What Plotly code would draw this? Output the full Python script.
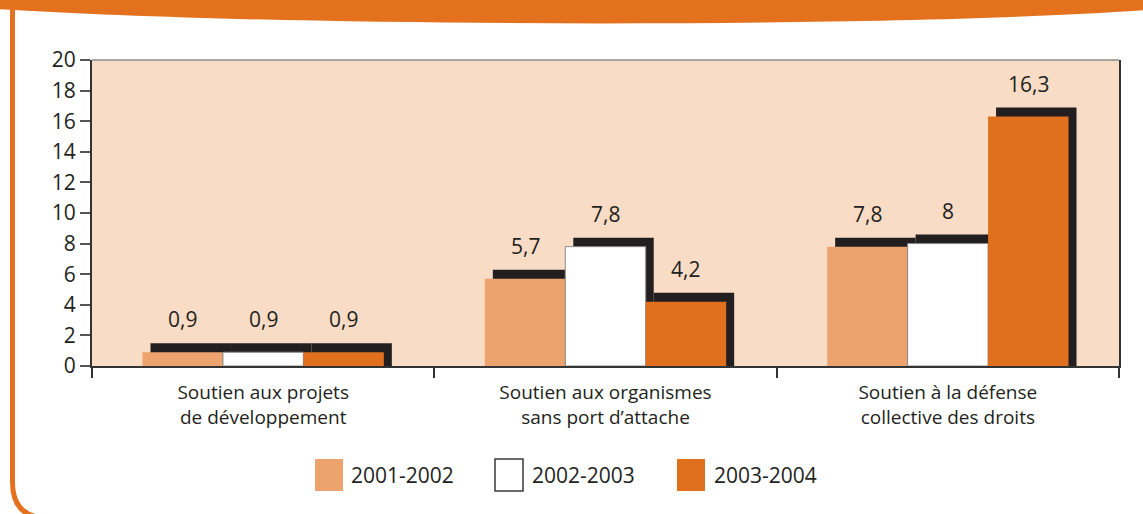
import plotly.graph_objects as go

# ---------------- data ----------------
categories = ["Soutien aux projets<br>de développement",
              "Soutien aux organismes<br>sans port d’attache",
              "Soutien à la défense<br>collective des droits"]
series_names = ["2001-2002", "2002-2003", "2003-2004"]
values_2001_2002 = [0.9, 5.7, 7.8]
values_2002_2003 = [0.9, 7.8, 8.0]
values_2003_2004 = [0.9, 4.2, 16.3]
y_ticks = [0, 2, 4, 6, 8, 10, 12, 14, 16, 18, 20]

# ---------------- style ----------------
W, H = 1143, 514
ML, MR, MT, MB = 92, 24, 60, 148
PW, PH = W - ML - MR, H - MT - MB
FONT = "Open Sans, Noto Sans, sans-serif"
TXT = "#231F20"
colors = ["#EDA36D", "#FFFFFF", "#E1701E"]
line_colors = ["#EDA36D", "#8A8A8A", "#E1701E"]
line_widths = [0, 1, 0]
shadow_color = "#231F20"
frame_orange = "#E3711E"
plot_bg = "#F9DCC5"

series = [values_2001_2002, values_2002_2003, values_2003_2004]
bar_w = 0.235
offsets = [-1.5 * bar_w + k * bar_w for k in range(3)]
px_per_x = PW / 3.0
px_per_y = PH / 20.0
dx = 8 / px_per_x      # shadow offset (right)
dy = 9 / px_per_y      # shadow offset (up)


def fmt(v):
    return (str(int(v)) if float(v).is_integer() else str(v)).replace(".", ",")


def px(x):
    return (x - ML) / PW


def py(y):
    return (H - MB - y) / PH


fig = go.Figure()

# shadows (behind every bar)
for k, vals in enumerate(series):
    fig.add_trace(go.Bar(
        x=categories, y=[v + dy + 1 for v in vals], base=-1,
        width=bar_w, offset=offsets[k] + dx,
        marker=dict(color=shadow_color, line=dict(width=0)),
        showlegend=False, hoverinfo="skip"))

# main bars
for k, vals in enumerate(series):
    fig.add_trace(go.Bar(
        x=categories, y=vals, name=series_names[k],
        width=bar_w, offset=offsets[k],
        marker=dict(color=colors[k], line=dict(color=line_colors[k], width=line_widths[k])),
        showlegend=False))

annotations = []
for k, vals in enumerate(series):
    for i, v in enumerate(vals):
        annotations.append(dict(
            x=i + offsets[k] + bar_w / 2, y=v, xref="x", yref="y",
            text=fmt(v), showarrow=False, yanchor="bottom", yshift=17,
            font=dict(family=FONT, size=21, color=TXT)))

# custom legend (large swatches)
leg_sw_x = [315, 495, 677]
leg_txt_x = [349, 530, 712]
shapes = []
for k in range(3):
    shapes.append(dict(type="rect", xref="paper", yref="paper",
                       x0=px(leg_sw_x[k]), x1=px(leg_sw_x[k] + 28),
                       y0=py(491), y1=py(459),
                       fillcolor=colors[k],
                       line=dict(color="#3A3A3A" if k == 1 else colors[k], width=1.5 if k == 1 else 0)))
    annotations.append(dict(x=px(leg_txt_x[k]), y=py(475), xref="paper", yref="paper",
                            text=series_names[k], showarrow=False,
                            xanchor="left", yanchor="middle",
                            font=dict(family=FONT, size=21, color=TXT)))

# top border of plot area
shapes.append(dict(type="line", xref="paper", yref="paper", x0=0, x1=1, y0=1, y1=1,
                   line=dict(color="#8C8C8C", width=1.5)))

# orange frame: header band and left border with rounded corner
path = "M{},{} L{},{} L{},{} C{},{} {},{} {},{} Z".format(
    px(-5), py(-5), px(W + 5), py(-5), px(W + 5), py(10),
    px(900), py(28), px(300), py(28), px(-5), py(9))
shapes.append(dict(type="path", xref="paper", yref="paper", path=path,
                   fillcolor=frame_orange, line=dict(width=0), layer="above"))
path2 = "M{},{} L{},{} Q{},{} {},{} L{},{}".format(
    px(12.5), py(0), px(12.5), py(482), px(12.5), py(518), px(48), py(518), px(W + 5), py(518))
shapes.append(dict(type="path", xref="paper", yref="paper", path=path2,
                   line=dict(color=frame_orange, width=5)))

fig.update_layout(
    width=W, height=H,
    margin=dict(l=ML, r=MR, t=MT, b=MB),
    paper_bgcolor="white", plot_bgcolor=plot_bg,
    barmode="overlay",
    showlegend=False,
    font=dict(family=FONT, color=TXT),
    shapes=shapes, annotations=annotations,
    xaxis=dict(range=[-0.5, 2.5], showgrid=False, zeroline=False,
               showline=True, linecolor="#333333", linewidth=2,
               ticks="outside", tickson="boundaries", ticklen=10,
               tickcolor="#333333", tickwidth=2, ticklabelstandoff=8,
               tickfont=dict(family=FONT, size=19, color=TXT)),
    yaxis=dict(range=[0, 20], tickvals=y_ticks, showgrid=False, zeroline=False,
               showline=True, linecolor="#333333", linewidth=2, mirror=True,
               ticks="outside", ticklen=10, tickcolor="#555555", tickwidth=1.5,
               tickfont=dict(family=FONT, size=21, color=TXT)),
)

fig.write_html("out.html", config={"displayModeBar": False},
               post_script="document.body.style.margin='0';document.body.style.padding='0';")
